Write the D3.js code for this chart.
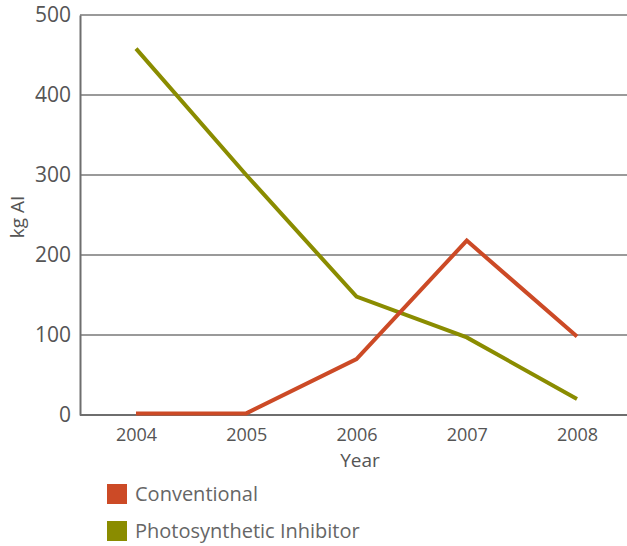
<!DOCTYPE html>
<html>
<head>
<meta charset="utf-8">
<script src="https://cdn.jsdelivr.net/npm/d3@7"></script>
<style>
  body { margin: 0; background: #fff; }
  text { font-family: "Open Sans", "DejaVu Sans", sans-serif; fill: #555; }
</style>
</head>
<body>
<svg id="chart" width="627" height="546"></svg>
<script>
const years = ["2004", "2005", "2006", "2007", "2008"];
const conventional = [2, 2, 70, 218, 98];
const photosynthetic = [458, 300, 148, 97, 20];
const yTicks = [0, 100, 200, 300, 400, 500];

const SERIES = [
    { name: "Conventional", values: conventional, color: "#cc4a26" },
    { name: "Photosynthetic Inhibitor", values: photosynthetic, color: "#8a8c00" }
];

const margin = { left: 80, right: 0, top: 15, bottom: 131 };
const svg = d3.select("#chart");
const width = 627, height = 546;

const x = d3.scalePoint()
    .domain(years)
    .range([margin.left + 56, width - 50]);

const y = d3.scaleLinear()
    .domain([0, 500])
    .range([height - margin.bottom, margin.top]);

// gridlines
svg.append("g")
    .selectAll("line")
    .data(yTicks.filter(d => d > 0))
    .enter()
    .append("line")
    .attr("x1", margin.left)
    .attr("x2", width)
    .attr("y1", d => y(d))
    .attr("y2", d => y(d))
    .style("stroke", "#9a9a9a")
    .style("stroke-width", 2);

// y axis
const yAxis = svg.append("g")
    .attr("transform", "translate(" + margin.left + ",0)")
    .call(d3.axisLeft(y).tickValues(yTicks).tickSize(0).tickPadding(9));
yAxis.select(".domain").style("stroke", "#6e6e6e").style("stroke-width", 2);
yAxis.selectAll("text").style("font-size", "21px").style("fill", "#555");

// x axis
const xAxis = svg.append("g")
    .attr("transform", "translate(0," + y(0) + ")")
    .call(d3.axisBottom(x).tickSize(0).tickPadding(13));
xAxis.select(".domain")
    .attr("d", "M" + margin.left + ",0H" + width)
    .style("stroke", "#6e6e6e")
    .style("stroke-width", 2);
xAxis.selectAll("text").style("font-size", "18px").style("fill", "#555");

svg.append("text")
    .attr("x", 360)
    .attr("y", 467)
    .attr("text-anchor", "middle")
    .style("font-size", "19px")
    .text("Year");

svg.append("text")
    .attr("transform", "translate(24,217) rotate(-90)")
    .attr("text-anchor", "middle")
    .style("font-size", "19px")
    .text("kg AI");

// lines
const line = d3.line()
    .x((d, i) => x(years[i]))
    .y(d => y(d));

svg.append("g")
    .selectAll("path")
    .data(SERIES.slice().reverse())
    .enter()
    .append("path")
    .attr("d", s => line(s.values))
    .style("fill", "none")
    .style("stroke", s => s.color)
    .style("stroke-width", 4)
    .style("stroke-linejoin", "miter");

// legend
const legend = svg.append("g")
    .selectAll("g")
    .data(SERIES)
    .enter()
    .append("g")
    .attr("transform", (s, i) => "translate(107," + (484 + i * 37) + ")");

legend.append("rect")
    .attr("width", 20)
    .attr("height", 20)
    .style("fill", s => s.color);

legend.append("text")
    .attr("x", 28)
    .attr("y", 17)
    .style("font-size", "20px")
    .style("fill", "#666")
    .text(s => s.name);
</script>
</body>
</html>
